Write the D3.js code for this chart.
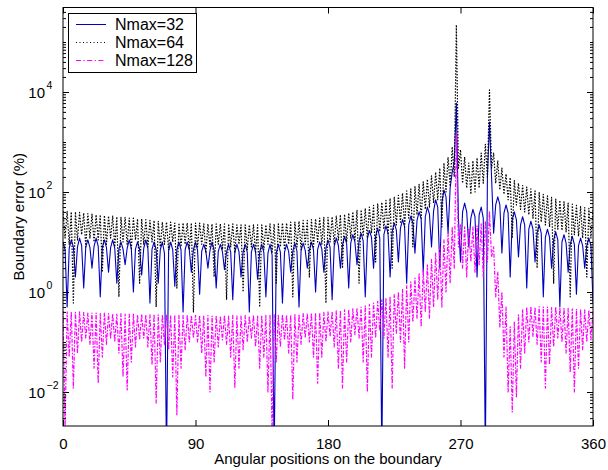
<!DOCTYPE html>
<html><head><meta charset="utf-8">
<script src="https://cdn.jsdelivr.net/npm/d3@7"></script>
<style>body{margin:0;background:#fff} svg{display:block} text{font-family:"Liberation Sans",Arial,Helvetica,sans-serif;fill:#000}</style>
</head><body><svg id="c" width="608" height="470"></svg>
<script>
// ---------- data ----------
const seriesNames = ["Nmax=32", "Nmax=64", "Nmax=128"];
const xTicks = [0, 90, 180, 270, 360];
const yTickExps = [-2, 0, 2, 4];
const xLabel = "Angular positions on the boundary";
const yLabel = "Boundary error (%)";

// Nmax=32 : samples every 1.40625 deg (0..360)
const err32 = [10,7,0.5,7.5, 11,8,2.0,8, 12,8.5,1.2,8, 11,7.8,3.0,8.2,
12,8.3,0.8,7.8, 11,7.7,2.5,7.7, 11,7.5,1.5,7.2, 10,7.2,3.5,7.5,
11,7.5,1.0,7.2, 10,7.3,2.2,7.5, 11,7.4,0.6,7.2, 10,7,1.5,7,
10,6,0.0005,6.5, 10,7,1.3,7, 10,7,0.4,7, 10,7,2.5,7,
10,6.8,0.9,6.5, 9,6.5,3,6.8, 10,6.8,1.2,6.5, 9,6.4,2.8,6.3,
9,6.3,0.7,6.3, 9,6.4,2,6.3, 9,6.3,0.4,6.3, 9,6.4,1.8,6.3,
9,6.2,0.8,6, 9,5.5,0.0005,6, 9,6.3,0.6,6.3, 9,6.4,2.5,6.5,
9.5,6.6,0.5,6.7, 9.5,6.8,3,6.9, 10,7,1.0,7.1, 10,7.3,2.5,7.5,
11,7.8,0.7,8.2, 12,8.6,3,8.8, 13,9.3,1.2,9.6, 14,10,3.5,10.4,
15,10.5,0.8,11.5, 17,12.5,3,13, 19,12,0.0005,14, 21,15,2,16,
24,17.5,4,19, 28,20,1.5,22, 33,24,6,27, 40,29,2.5,32,
50,36,8,42, 70,50,3,60, 110,80,15,120, 250,400,6000,30,
4,40,60,40, 8,30,45,32, 2,35,50,30, 0.0005,200,2500,200,
15,55,80,56, 6,38,55,38, 2,28,40,28, 5,22,32,22,
1.2,18,26,18, 4,15,22,15, 0.8,12.5,18,12.5, 3,11,16,11,
0.5,10,14,9.5, 2.5,9,13,9, 0.9,8.5,12,8.5, 3,8.5,12,8.5, 0.6];

// Nmax=64 : samples every 1.40625 deg (0..360)
const err64 = [42,12,41,9,40,0.6,40,11,39,14,38,8,37,12,36,10,
35,11,35,2.5,34,9,33,12,33,8,32,0.8,31,10,31,9,
30,7,30,11,29,1.5,29,9,28,8,27,10,27,0.5,26,8,
25,9,25,7,25,10,24,1.2,24,8,24,9,24,7,24,0.4,
24,8,24,9,23,6,23,8,23,2,23,9,23,7,23,0.7,
23,8,23,6,22,9,22,1,22,7,22,8,22,6,22,0.5,
22,7,22,9,23,6,23,1.5,23,8,24,7,24,9,25,0.8,
25,8,26,7,27,9,27,2,28,8,29,10,30,9,31,0.6,
31,10,32,9,33,11,35,3,36,10,38,12,40,11,43,1.5,
44,13,47,12,50,15,54,4,58,16,62,18,68,14,75,3,
80,22,86,25,95,20,105,30,115,8,128,35,142,30,160,45,
180,50,210,60,250,70,300,20,380,100,500,130,800,200,220000,300,
700,150,500,120,380,90,420,100,480,120,600,150,900,200,11000,300,
600,150,420,110,300,90,230,70,195,12,170,55,150,45,135,40,
125,35,115,30,105,3,97,25,90,22,84,20,78,1.5,72,18,
68,17,64,16,60,0.8,57,14,54,13,51,12,49,2,47,12,45];

// Nmax=128 : samples every 1.40625 deg (0..360)
const err128 = [0.42,0.002,0.40,0.05,0.40,0.012,0.39,0.06,0.40,0.1,0.39,0.12,0.38,0.09,0.38,0.03,
0.38,0.015,0.37,0.05,0.38,0.09,0.37,0.12,0.37,0.1,0.36,0.06,0.37,0.02,0.36,0.011,
0.36,0.04,0.36,0.08,0.35,0.11,0.36,0.12,0.35,0.08,0.35,0.035,0.36,0.006,0.35,0.04,
0.35,0.09,0.35,0.07,0.34,0.02,0.35,0.0035,0.34,0.03,0.34,0.07,0.35,0.1,0.34,0.12,
0.34,0.1,0.34,0.06,0.33,0.02,0.34,0.01,0.33,0.04,0.34,0.08,0.33,0.11,0.34,0.09,
0.33,0.05,0.34,0.012,0.33,0.03,0.33,0.07,0.34,0.1,0.33,0.12,0.34,0.08,0.33,0.03,
0.34,0.05,0.34,0.01,0.34,0.0015,0.35,0.04,0.34,0.08,0.35,0.11,0.35,0.06,0.35,0.007,
0.36,0.04,0.36,0.09,0.37,0.12,0.37,0.1,0.38,0.05,0.38,0.015,0.39,0.05,0.39,0.1,
0.40,0.13,0.41,0.08,0.42,0.03,0.43,0.012,0.44,0.04,0.45,0.1,0.46,0.14,0.48,0.12,
0.50,0.04,0.53,0.01,0.56,0.05,0.6,0.12,0.65,0.17,0.7,0.12,0.76,0.05,0.82,0.012,
0.9,0.15,1.0,0.1,1.15,0.03,1.35,0.1,1.6,0.25,1.9,0.3,2.3,0.2,2.8,0.4,
3.5,0.3,4.5,0.5,6,0.7,8,0.5,11,1.0,15,1.5,20,3,1500,8,
22,3,20,2,19,4,20,2.5,21,3.5,23,2,26,4,40,5,
8,0.8,2.5,0.2,1.0,0.05,0.5,0.01,0.2,0.004,0.25,0.008,0.35,0.03,0.45,0.06,
0.5,0.1,0.52,0.13,0.5,0.09,0.51,0.04,0.5,0.012,0.5,0.035,0.49,0.08,0.5,0.12,
0.48,0.1,0.47,0.06,0.47,0.025,0.46,0.01,0.45,0.03,0.45,0.07,0.44,0.1,0.43,0.11,0.42];

// ---------- drawing ----------
const svg = d3.select("#c");
const P = {l: 63, r: 593, t: 7.5, b: 426};
const x = d3.scaleLinear().domain([0, 360]).range([P.l, P.r]);
const y = d3.scaleLog().domain([Math.pow(10, -2.68), Math.pow(10, 5.69)]).range([P.b, P.t]);

svg.append("rect").attr("width", 608).attr("height", 470).attr("fill", "#fff");

svg.append("defs").append("clipPath").attr("id", "clip")
  .append("rect").attr("x", P.l).attr("y", P.t).attr("width", P.r - P.l).attr("height", P.b - P.t);

const styles = [
  {color: "#0000c0", dash: null, w: 1.1},
  {color: "#000000", dash: "1.5,1.5", w: 1.2},
  {color: "#ff00ff", dash: "4,1.5,1.5,1.5", w: 1.2}
];
const allSeries = [err32, err64, err128];

const gData = svg.append("g").attr("clip-path", "url(#clip)");
allSeries.forEach((arr, s) => {
  const n = arr.length - 1;
  const pts = arr.map((v, i) => [i * 360 / n, v]);
  const line = d3.line().x(d => x(d[0])).y(d => y(d[1]));
  gData.append("path").attr("d", line(pts))
    .attr("fill", "none").attr("stroke", styles[s].color)
    .attr("stroke-width", styles[s].w)
    .attr("stroke-dasharray", styles[s].dash)
    .attr("stroke-linejoin", "round");
});

// axes with inward ticks
const axisStyle = g => { g.select(".domain").remove(); g.selectAll("line").attr("stroke", "#000"); };
svg.append("g").attr("transform", `translate(0,${P.b})`)
  .call(d3.axisBottom(x).tickValues(xTicks).tickSizeInner(-6).tickSizeOuter(0).tickPadding(12).tickFormat(d3.format("d")))
  .call(axisStyle)
  .call(g => g.selectAll("text").attr("font-size", 15).attr("font-family", "Liberation Sans, Arial, sans-serif").attr("dy", "0.71em"));
svg.append("g").attr("transform", `translate(0,${P.t})`)
  .call(d3.axisTop(x).tickValues(xTicks).tickSizeInner(-6).tickSizeOuter(0).tickFormat(""))
  .call(axisStyle);

const yMajor = yTickExps.map(e => Math.pow(10, e));
const yMinor = [];
for (let d = -3; d <= 5; d++) for (let k = 1; k <= 9; k++) {
  const v = k * Math.pow(10, d);
  if (v < y.domain()[0] || v > y.domain()[1]) continue;
  if (k === 1 && yTickExps.includes(d)) continue;
  yMinor.push(v);
}
[[d3.axisLeft, P.l], [d3.axisRight, P.r]].forEach(([ax, pos]) => {
  svg.append("g").attr("transform", `translate(${pos},0)`)
    .call(ax(y).tickValues(yMajor).tickSizeInner(-6).tickSizeOuter(0).tickFormat(""))
    .call(axisStyle);
  svg.append("g").attr("transform", `translate(${pos},0)`)
    .call(ax(y).tickValues(yMinor).tickSizeInner(-3).tickSizeOuter(0).tickFormat(""))
    .call(axisStyle);
});

// y tick labels 10^e
const yl = svg.append("g");
yTickExps.forEach(e => {
  const yy = y(Math.pow(10, e));
  yl.append("text").attr("x", 45).attr("y", yy + 5.5).attr("text-anchor", "end")
    .attr("font-size", 15).text("10");
  yl.append("text").attr("x", 46.5).attr("y", yy - 3).attr("text-anchor", "start")
    .attr("font-size", 10.5).text(e < 0 ? "\u2212" + Math.abs(e) : String(e));
});

// frame
svg.append("rect").attr("x", P.l).attr("y", P.t).attr("width", P.r - P.l).attr("height", P.b - P.t)
  .attr("fill", "none").attr("stroke", "#000").attr("stroke-width", 1);

// axis labels
svg.append("text").attr("x", (P.l + P.r) / 2).attr("y", 464).attr("text-anchor", "middle")
  .attr("font-size", 15).text(xLabel);
svg.append("text").attr("transform", `translate(24,${(P.t + P.b) / 2}) rotate(-90)`)
  .attr("text-anchor", "middle").attr("font-size", 15).text(yLabel);

// legend
const lg = svg.append("g");
lg.append("rect").attr("x", 68.5).attr("y", 13.5).attr("width", 128).attr("height", 59)
  .attr("fill", "#fff").attr("stroke", "#000").attr("stroke-width", 1);
seriesNames.forEach((name, i) => {
  const yy = 24.5 + i * 18;
  lg.append("line").attr("x1", 76).attr("x2", 106).attr("y1", yy).attr("y2", yy)
    .attr("stroke", styles[i].color).attr("stroke-width", 1)
    .attr("stroke-dasharray", i === 1 ? "1,2.5" : (i === 2 ? "5,2.5,1.2,2.5" : null));
  lg.append("text").attr("x", 115).attr("y", yy + 5.5).attr("font-size", 16).text(name);
});
</script>
</body></html>
